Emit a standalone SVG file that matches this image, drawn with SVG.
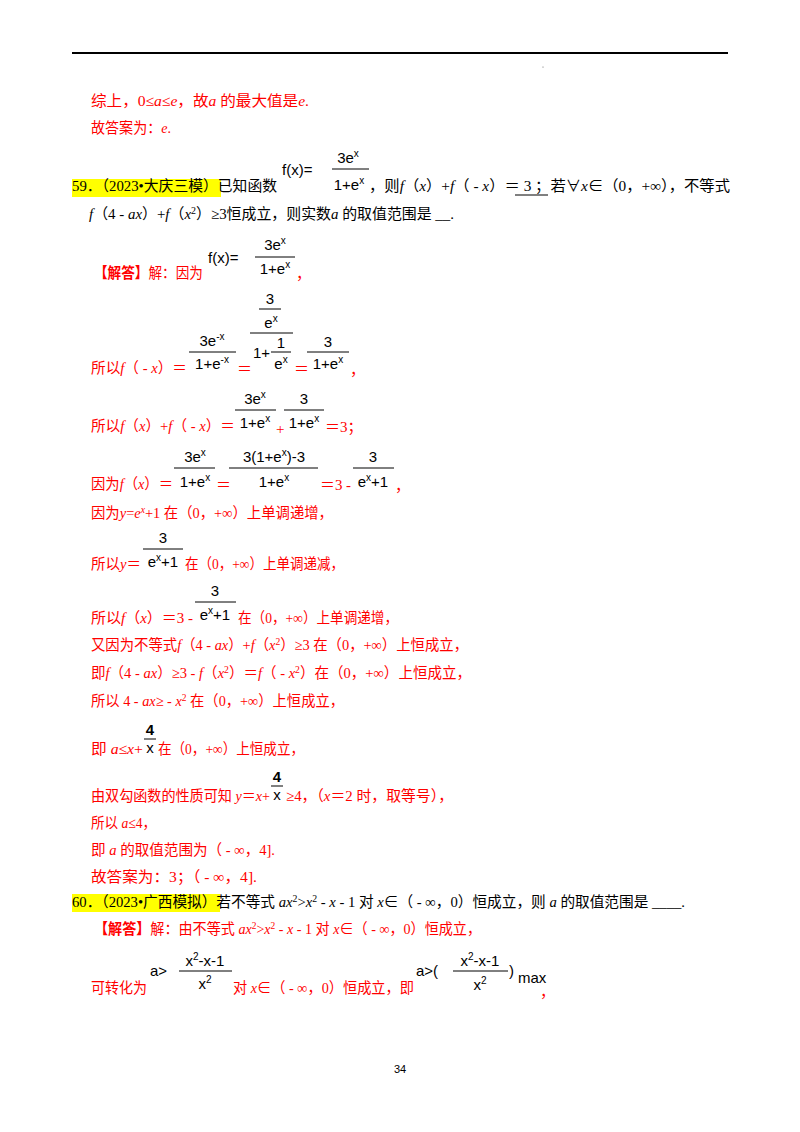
<svg xmlns="http://www.w3.org/2000/svg" width="800" height="1132" viewBox="0 0 800 1132">
<style>
.r{fill:#f00;font-family:"Liberation Serif","Noto Sans CJK SC",serif;font-size:15px}
.k{fill:#000;font-family:"Liberation Serif","Noto Sans CJK SC",serif;font-size:15px}
.m{fill:#000;font-family:"Liberation Sans",sans-serif;font-size:15px}
.s{font-size:10px}
.c{text-anchor:middle}
.i{font-style:italic}
.fl{stroke:#000;stroke-width:1}
</style>
<rect width="800" height="1132" fill="#fff"/>
<line x1="72" y1="53" x2="728" y2="53" stroke="#000" stroke-width="2"/>
<circle cx="543" cy="67" r="0.6" fill="#666"/>

<text class="r" x="91" y="106" textLength="218" lengthAdjust="spacingAndGlyphs">综上，0≤<tspan class="i">a</tspan>≤<tspan class="i">e</tspan>，故<tspan class="i">a</tspan> 的最大值是<tspan class="i">e</tspan>.</text>
<text class="r" x="91" y="133" textLength="80" lengthAdjust="spacingAndGlyphs">故答案为：<tspan class="i">e</tspan>.</text>

<rect x="72" y="179" width="149" height="18" fill="#ff0"/>
<text class="k" x="72" y="191" textLength="205" lengthAdjust="spacingAndGlyphs">59．（2023•大庆三模）已知函数</text>
<text class="m" x="282" y="175">f(x)=</text>
<text class="m c" x="348" y="163">3e<tspan class="s" dy="-6">x</tspan></text>
<line class="fl" x1="332" y1="169" x2="369" y2="169"/>
<text class="m c" x="349" y="190">1+e<tspan class="s" dy="-6">x</tspan></text>
<text class="k" x="369" y="191" textLength="361" lengthAdjust="spacingAndGlyphs">，则<tspan class="i">f</tspan>（<tspan class="i">x</tspan>）+<tspan class="i">f</tspan>（ - <tspan class="i">x</tspan>）＝  3  ；若∀<tspan class="i">x</tspan>∈（0，+∞），不等式</text>
<line x1="515" y1="195" x2="548" y2="195" stroke="#000"/>
<text class="k" x="89" y="219" textLength="365" lengthAdjust="spacingAndGlyphs"><tspan class="i">f</tspan>（4 - <tspan class="i">ax</tspan>）+<tspan class="i">f</tspan>（<tspan class="i">x</tspan><tspan class="s" dy="-5">2</tspan><tspan dy="5">）≥3恒成立，则实数</tspan><tspan class="i">a</tspan> 的取值范围是 __.</text>

<text class="r" x="94" y="278" textLength="109" lengthAdjust="spacingAndGlyphs"><tspan font-weight="bold">【解答】</tspan>解：因为</text>
<text class="m" x="208" y="263">f(x)=</text>
<text class="m c" x="275" y="250">3e<tspan class="s" dy="-6">x</tspan></text>
<line class="fl" x1="255" y1="257" x2="295" y2="257"/>
<text class="m c" x="275" y="274">1+e<tspan class="s" dy="-6">x</tspan></text>
<text class="r" x="296" y="279">，</text>

<text class="r" x="91" y="373" textLength="96" lengthAdjust="spacingAndGlyphs">所以<tspan class="i">f</tspan>（ - <tspan class="i">x</tspan>）＝</text>
<text class="m c" x="212" y="346">3e<tspan class="s" dy="-6">-x</tspan></text>
<line class="fl" x1="189" y1="352" x2="236" y2="352"/>
<text class="m c" x="212" y="369">1+e<tspan class="s" dy="-6">-x</tspan></text>
<text class="r" x="237" y="374">＝</text>
<text class="m c" x="270" y="304">3</text>
<line class="fl" x1="259" y1="309" x2="281" y2="309"/>
<text class="m c" x="271" y="328">e<tspan class="s" dy="-6">x</tspan></text>
<line class="fl" x1="250" y1="333" x2="293" y2="333"/>
<text class="m" x="253" y="358">1+</text>
<text class="m c" x="281" y="348">1</text>
<line class="fl" x1="271" y1="352" x2="291" y2="352"/>
<text class="m c" x="281" y="369">e<tspan class="s" dy="-6">x</tspan></text>
<text class="r" x="294" y="374">＝</text>
<text class="m c" x="328" y="347">3</text>
<line class="fl" x1="307" y1="352" x2="349" y2="352"/>
<text class="m c" x="328" y="369">1+e<tspan class="s" dy="-6">x</tspan></text>
<text class="r" x="350" y="375">，</text>

<text class="r" x="91" y="431" textLength="144" lengthAdjust="spacingAndGlyphs">所以<tspan class="i">f</tspan>（<tspan class="i">x</tspan>）+<tspan class="i">f</tspan>（ - <tspan class="i">x</tspan>）＝</text>
<text class="m c" x="255" y="404">3e<tspan class="s" dy="-6">x</tspan></text>
<line class="fl" x1="235" y1="410" x2="276" y2="410"/>
<text class="m c" x="255" y="428">1+e<tspan class="s" dy="-6">x</tspan></text>
<text class="r" x="276" y="434">+</text>
<text class="m c" x="304" y="404">3</text>
<line class="fl" x1="284" y1="410" x2="324" y2="410"/>
<text class="m c" x="304" y="428">1+e<tspan class="s" dy="-6">x</tspan></text>
<text class="r" x="325" y="432">＝3；</text>

<text class="r" x="91" y="489" textLength="82" lengthAdjust="spacingAndGlyphs">因为<tspan class="i">f</tspan>（<tspan class="i">x</tspan>）＝</text>
<text class="m c" x="195" y="462">3e<tspan class="s" dy="-6">x</tspan></text>
<line class="fl" x1="174" y1="468" x2="215" y2="468"/>
<text class="m c" x="195" y="487">1+e<tspan class="s" dy="-6">x</tspan></text>
<text class="r" x="216" y="490">＝</text>
<text class="m c" x="274" y="462">3(1+e<tspan class="s" dy="-6">x</tspan><tspan dy="6">)-3</tspan></text>
<line class="fl" x1="229" y1="468" x2="318" y2="468"/>
<text class="m c" x="274" y="487">1+e<tspan class="s" dy="-6">x</tspan></text>
<text class="r" x="320" y="490" textLength="31" lengthAdjust="spacingAndGlyphs">＝3 -</text>
<text class="m c" x="373" y="462">3</text>
<line class="fl" x1="353" y1="468" x2="394" y2="468"/>
<text class="m c" x="373" y="487">e<tspan class="s" dy="-6">x</tspan><tspan dy="6">+1</tspan></text>
<text class="r" x="395" y="491">，</text>

<text class="r" x="91" y="518" textLength="242" lengthAdjust="spacingAndGlyphs">因为<tspan class="i">y</tspan>=<tspan class="i">e</tspan><tspan class="s i" dy="-5">x</tspan><tspan dy="5">+1 在（0，+∞）上单调递增，</tspan></text>

<text class="r" x="91" y="569" textLength="50" lengthAdjust="spacingAndGlyphs">所以<tspan class="i">y</tspan>＝</text>
<text class="m c" x="163" y="543">3</text>
<line class="fl" x1="143" y1="549" x2="183" y2="549"/>
<text class="m c" x="163" y="567">e<tspan class="s" dy="-6">x</tspan><tspan dy="6">+1</tspan></text>
<text class="r" x="185" y="569" textLength="159" lengthAdjust="spacingAndGlyphs">在（0，+∞）上单调递减，</text>

<text class="r" x="91" y="623" textLength="102" lengthAdjust="spacingAndGlyphs">所以<tspan class="i">f</tspan>（<tspan class="i">x</tspan>）＝3 -</text>
<text class="m c" x="215" y="596">3</text>
<line class="fl" x1="195" y1="602" x2="236" y2="602"/>
<text class="m c" x="215" y="620">e<tspan class="s" dy="-6">x</tspan><tspan dy="6">+1</tspan></text>
<text class="r" x="238" y="623" textLength="160" lengthAdjust="spacingAndGlyphs">在（0，+∞）上单调递增，</text>

<text class="r" x="91" y="650" textLength="377" lengthAdjust="spacingAndGlyphs">又因为不等式<tspan class="i">f</tspan>（4 - <tspan class="i">ax</tspan>）+<tspan class="i">f</tspan>（<tspan class="i">x</tspan><tspan class="s" dy="-5">2</tspan><tspan dy="5">）≥3 在（0，+∞）上恒成立，</tspan></text>
<text class="r" x="91" y="678" textLength="380" lengthAdjust="spacingAndGlyphs">即<tspan class="i">f</tspan>（4 - <tspan class="i">ax</tspan>）≥3 - <tspan class="i">f</tspan>（<tspan class="i">x</tspan><tspan class="s" dy="-5">2</tspan><tspan dy="5">）＝</tspan><tspan class="i">f</tspan>（ - <tspan class="i">x</tspan><tspan class="s" dy="-5">2</tspan><tspan dy="5">）在（0，+∞）上恒成立，</tspan></text>
<text class="r" x="91" y="706" textLength="253" lengthAdjust="spacingAndGlyphs">所以 4 - <tspan class="i">ax</tspan>≥ - <tspan class="i">x</tspan><tspan class="s" dy="-5">2</tspan><tspan dy="5"> 在（0，+∞）上恒成立，</tspan></text>

<text class="r" x="91" y="754" textLength="52" lengthAdjust="spacingAndGlyphs">即 <tspan class="i">a</tspan>≤<tspan class="i">x</tspan>+</text>
<text class="m c" x="150" y="735" font-weight="bold">4</text>
<line class="fl" x1="144" y1="739" x2="156" y2="739"/>
<text class="m c" x="150" y="753" font-size="12">x</text>
<text class="r" x="158" y="754" textLength="146" lengthAdjust="spacingAndGlyphs">在（0，+∞）上恒成立，</text>

<text class="r" x="91" y="801" textLength="179" lengthAdjust="spacingAndGlyphs">由双勾函数的性质可知 <tspan class="i">y</tspan>＝<tspan class="i">x</tspan>+</text>
<text class="m c" x="277" y="782" font-weight="bold">4</text>
<line class="fl" x1="271" y1="786" x2="283" y2="786"/>
<text class="m c" x="277" y="800" font-size="12">x</text>
<text class="r" x="286" y="801" textLength="167" lengthAdjust="spacingAndGlyphs">≥4，（<tspan class="i">x</tspan>＝2 时，取等号），</text>

<text class="r" x="91" y="828" textLength="65" lengthAdjust="spacingAndGlyphs">所以 <tspan class="i">a</tspan>≤4，</text>
<text class="r" x="91" y="855" textLength="184" lengthAdjust="spacingAndGlyphs">即 <tspan class="i">a</tspan> 的取值范围为（ - ∞，4].</text>
<text class="r" x="91" y="882" textLength="166" lengthAdjust="spacingAndGlyphs">故答案为：3；（ - ∞，4].</text>

<rect x="72" y="894" width="148" height="18" fill="#ff0"/>
<text class="k" x="72" y="907" textLength="613" lengthAdjust="spacingAndGlyphs">60．（2023•广西模拟）若不等式 <tspan class="i">ax</tspan><tspan class="s" dy="-5">2</tspan><tspan dy="5">&gt;</tspan><tspan class="i">x</tspan><tspan class="s" dy="-5">2</tspan><tspan dy="5"> - </tspan><tspan class="i">x</tspan> - 1 对 <tspan class="i">x</tspan>∈（ - ∞，0）恒成立，则 <tspan class="i">a</tspan> 的取值范围是 ____.</text>

<text class="r" x="94" y="934" textLength="387" lengthAdjust="spacingAndGlyphs"><tspan font-weight="bold">【解答】</tspan>解：由不等式 <tspan class="i">ax</tspan><tspan class="s" dy="-5">2</tspan><tspan dy="5">&gt;</tspan><tspan class="i">x</tspan><tspan class="s" dy="-5">2</tspan><tspan dy="5"> - </tspan><tspan class="i">x</tspan> - 1 对 <tspan class="i">x</tspan>∈（ - ∞，0）恒成立，</text>

<text class="r" x="91" y="993" textLength="56" lengthAdjust="spacingAndGlyphs">可转化为</text>
<text class="m" x="150" y="976">a&gt;</text>
<text class="m c" x="205" y="966">x<tspan class="s" dy="-6">2</tspan><tspan dy="6">-x-1</tspan></text>
<line class="fl" x1="179" y1="971" x2="232" y2="971"/>
<text class="m c" x="205" y="989">x<tspan class="s" dy="-6">2</tspan></text>
<text class="r" x="233" y="993" textLength="181" lengthAdjust="spacingAndGlyphs">对 <tspan class="i">x</tspan>∈（ - ∞，0）恒成立，即</text>
<text class="m" x="416" y="976">a&gt;(</text>
<text class="m c" x="480" y="966">x<tspan class="s" dy="-6">2</tspan><tspan dy="6">-x-1</tspan></text>
<line class="fl" x1="453" y1="971" x2="508" y2="971"/>
<text class="m c" x="480" y="990">x<tspan class="s" dy="-6">2</tspan></text>
<text class="m" x="509" y="976">)</text>
<text class="m" x="518" y="983" font-size="11">max</text>
<text class="r" x="540" y="997">，</text>

<text x="400" y="1073" text-anchor="middle" font-family="Liberation Sans,sans-serif" font-size="11">34</text>
</svg>
